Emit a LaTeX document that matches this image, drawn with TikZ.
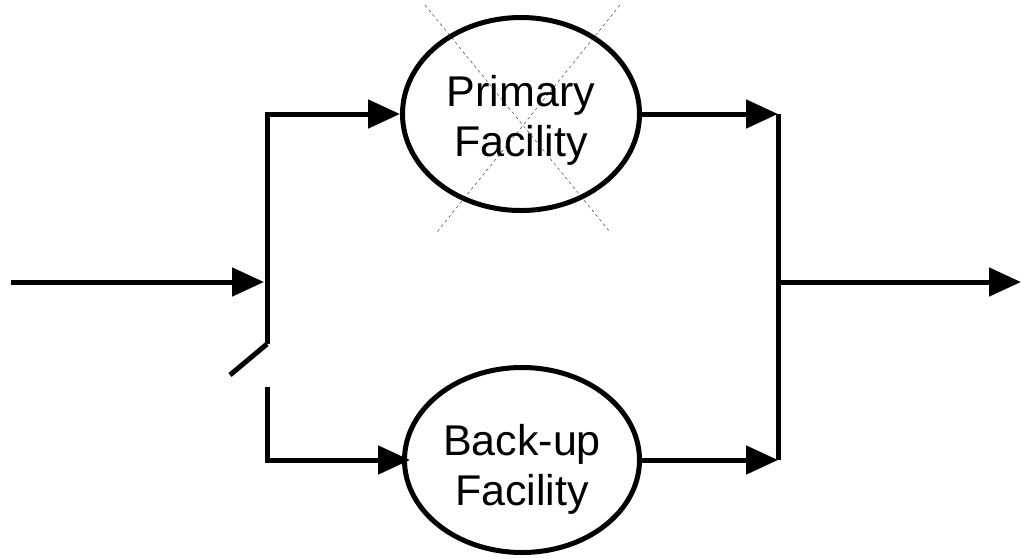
\documentclass[tikz,border=0pt]{standalone}
\usepackage{fontspec}
\setmainfont{Liberation Sans}
\usetikzlibrary{shapes.geometric,arrows.meta,positioning}
\tikzstyle{line} = [draw, line width=5pt, -{Triangle[length=32pt,width=28pt]}]
\tikzstyle{wire} = [draw, line width=5pt]
\tikzstyle{facility} = [ellipse, draw=black, line width=5pt, inner sep=0pt]
\tikzstyle{caption} = [align=center, inner sep=0pt, font=\fontsize{43}{50}\selectfont]

\begin{document}
\begin{tikzpicture}[x=1pt, y=-1pt]
\useasboundingbox (0,0) rectangle (1021,558);

\node (prim) [facility, minimum width=237pt, minimum height=193pt] at (521,114) {};
\node (primtext) [caption, below=6pt of prim.center, anchor=center] {Primary\\Facility};
\node (backup) [facility, minimum width=235pt, minimum height=185pt] at (522,460) {};
\node (backuptext) [caption, below=9pt of backup.center, anchor=center] {Back-up\\Facility};

% failed primary
\draw [dashed, thin, black!85] (425,5) -- (610,232);
\draw [dashed, thin, black!85] (620,5) -- (437,232);

% switch
\coordinate (in) at (11,282);
\coordinate (split) at (264,282);
\coordinate (pivot) at (267,344);
\coordinate (blade) at (230,375);
\coordinate (spare) at (267,387);
\path [line] (in) -- (split);
\path [wire] (blade) -- (pivot);
\path [line] (pivot) |- (prim.west);
\path [line] (spare) |- ([xshift=8pt]backup.west);

% merge
\coordinate (merge) at (778,282);
\coordinate (out) at (1021,282);
\path [line] (prim.east) -- (prim.east -| merge);
\path [line] (backup.east) -- (backup.east -| merge);
\path [wire] (prim.east -| merge) -- (backup.east -| merge);
\path [line] (merge) -- (out);

\end{tikzpicture}
\end{document}
